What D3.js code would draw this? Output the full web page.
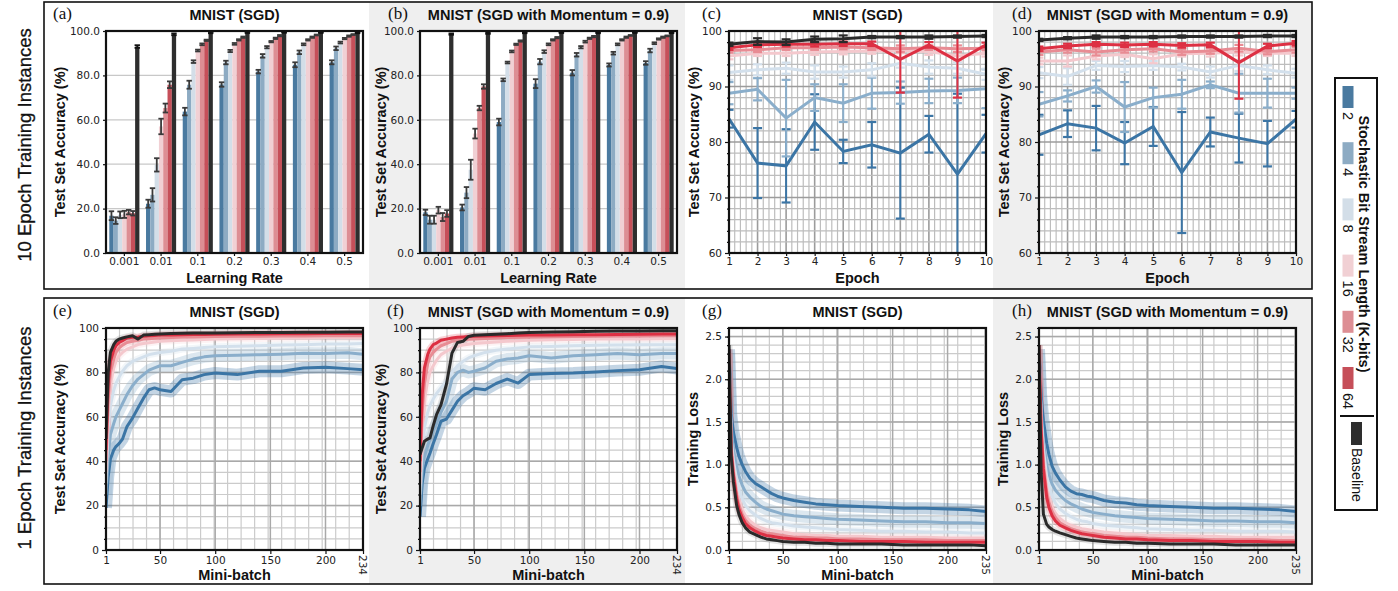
<!DOCTYPE html>
<html>
<head>
<meta charset="utf-8">
<script src="https://cdn.jsdelivr.net/npm/d3@7"></script>
<style>
  body { margin: 0; background: #fff; }
  svg { display: block; }
  .tick text { font-family: "DejaVu Sans", sans-serif; font-size: 10.5px; fill: #222; }
  .title { font-family: "Liberation Sans", Arial, sans-serif; font-weight: bold; font-size: 14.5px; fill: #111; }
  .axlabel { font-family: "Liberation Sans", Arial, sans-serif; font-weight: bold; font-size: 14.5px; fill: #111; }
  .tag { font-family: "Liberation Serif", serif; font-size: 17px; fill: #111; }
  .rowlabel { font-family: "Liberation Sans", Arial, sans-serif; font-size: 18.5px; fill: #111; stroke: #111; stroke-width: 0.3px; }
</style>
</head>
<body>
<svg width="1398" height="591"></svg>
<script>

var streamLengths = ["2", "4", "8", "16", "32", "64", "Baseline"];
var barColors = ["#4a7aa0", "#8dabc3", "#d3dee8", "#f1d0d4", "#dd8e94", "#c64f59", "#2e2e2e"];
var lineColors = ["#3b75a5", "#8aaecb", "#d3e0ec", "#f4c8cd", "#e88c94", "#dd3043", "#2a2a2a"];

// bar charts (a), (b): rows = stream length, columns = learning rate
var learningRates = ["0.001", "0.01", "0.1", "0.2", "0.3", "0.4", "0.5"];
var barSgdMean = [
  [16.8, 22.2, 63.7, 75.9, 81.7, 84.8, 85.9],
  [14.6, 26.2, 75.8, 85.8, 88.8, 90.4, 92.2],
  [17.2, 39.7, 86.2, 91.0, 92.7, 94.0, 94.8],
  [17.4, 57.0, 91.2, 94.2, 95.2, 96.0, 96.6],
  [18.4, 65.3, 94.0, 96.0, 96.7, 97.2, 97.7],
  [17.9, 75.8, 95.8, 97.2, 97.9, 98.2, 98.4],
  [93.0, 98.5, 99.3, 99.4, 99.4, 99.3, 99.2]
];
var barSgdErr = [
  [2.0, 1.8, 1.7, 1.0, 0.8, 1.1, 0.9],
  [1.5, 3.0, 1.8, 0.8, 0.8, 0.8, 0.8],
  [1.5, 3.0, 0.6, 0.5, 0.5, 0.4, 0.4],
  [1.6, 3.5, 0.4, 0.4, 0.3, 0.3, 0.3],
  [1.0, 2.0, 0.4, 0.3, 0.3, 0.3, 0.3],
  [1.0, 1.5, 0.3, 0.3, 0.3, 0.2, 0.2],
  [0.6, 0.4, 0.3, 0.3, 0.2, 0.2, 0.2]
];
var barMomMean = [
  [18.3, 20.5, 59.0, 76.3, 81.2, 84.7, 85.6],
  [15.0, 27.2, 78.0, 86.2, 89.3, 90.0, 91.2],
  [15.0, 37.5, 85.8, 90.7, 92.7, 94.0, 94.5],
  [19.3, 53.8, 90.8, 94.0, 95.2, 96.0, 96.4],
  [16.2, 65.3, 94.0, 96.0, 96.7, 97.2, 97.2],
  [17.8, 75.0, 95.5, 97.0, 97.5, 98.0, 97.8],
  [98.6, 99.0, 99.2, 99.3, 99.2, 99.3, 99.2]
];
var barMomErr = [
  [1.2, 1.3, 1.5, 2.0, 1.2, 0.7, 0.8],
  [1.8, 2.5, 0.6, 1.2, 0.8, 0.6, 0.8],
  [1.8, 4.5, 0.4, 0.6, 0.5, 0.4, 0.4],
  [1.5, 2.2, 0.4, 0.4, 0.4, 0.3, 0.3],
  [1.8, 1.0, 0.3, 0.3, 0.3, 0.3, 0.3],
  [1.5, 1.0, 0.3, 0.3, 0.3, 0.2, 0.2],
  [0.3, 0.3, 0.2, 0.2, 0.2, 0.2, 0.2]
];

// epoch charts (c), (d)
var epochs = [1, 2, 3, 4, 5, 6, 7, 8, 9, 10];
var epochSgdMean = [
  [84.2, 76.2, 75.7, 83.6, 78.3, 79.5, 78.0, 81.4, 74.2, 81.5],
  [88.8, 89.5, 84.3, 88.0, 87.0, 88.8, 88.9, 89.2, 89.3, 89.6],
  [92.5, 93.0, 93.3, 92.6, 92.6, 93.0, 94.2, 93.5, 93.3, 92.2],
  [95.5, 96.0, 96.0, 96.2, 96.3, 96.4, 96.5, 96.3, 95.5, 96.0],
  [96.5, 96.6, 97.0, 97.0, 97.1, 97.0, 96.8, 97.0, 96.8, 96.9],
  [97.0, 97.5, 97.6, 97.6, 97.7, 97.7, 94.9, 97.5, 94.6, 97.5],
  [97.6, 98.1, 98.0, 98.5, 98.6, 98.9, 98.9, 98.9, 99.0, 99.1]
];
var epochSgdErr = [
  [1.6, 6.3, 6.6, 5.0, 2.1, 4.1, 11.8, 3.3, 14.5, 3.4],
  [2.0, 2.0, 6.9, 2.4, 3.4, 2.8, 2.0, 2.2, 2.3, 3.5],
  [1.3, 1.0, 1.0, 1.2, 1.0, 1.2, 0.8, 1.2, 1.0, 1.0],
  [0.6, 0.5, 0.5, 0.5, 0.5, 0.5, 0.5, 0.6, 0.8, 0.6],
  [0.4, 0.4, 0.4, 0.4, 0.4, 0.4, 0.6, 0.4, 0.6, 0.4],
  [0.4, 0.4, 0.4, 0.4, 0.4, 0.4, 6.0, 0.5, 6.6, 0.4],
  [0.3, 0.6, 0.5, 0.5, 0.6, 0.2, 0.2, 0.3, 0.2, 0.2]
];
var epochMomMean = [
  [81.3, 83.3, 82.5, 79.8, 82.8, 74.5, 81.8, 80.7, 79.7, 84.1],
  [86.8, 88.3, 90.0, 86.3, 88.0, 88.6, 90.3, 88.8, 88.8, 88.8],
  [92.5, 91.8, 93.8, 93.6, 93.8, 93.5, 92.6, 93.8, 93.0, 92.4],
  [94.6, 94.6, 95.5, 95.8, 95.0, 95.9, 96.0, 96.2, 96.0, 96.0],
  [96.2, 96.6, 96.2, 96.6, 96.8, 96.2, 96.4, 96.9, 96.3, 96.6],
  [96.8, 97.3, 97.6, 97.5, 97.6, 97.4, 97.5, 94.3, 97.3, 97.8],
  [98.4, 98.7, 98.9, 98.9, 98.9, 99.0, 99.0, 99.0, 99.1, 99.1]
];
var epochMomErr = [
  [3.6, 2.4, 4.0, 3.8, 3.5, 10.9, 2.6, 4.4, 4.1, 1.5],
  [2.2, 1.0, 1.1, 4.5, 1.8, 2.6, 0.6, 3.5, 2.6, 1.0],
  [1.0, 1.5, 0.8, 1.0, 0.8, 0.6, 1.0, 1.0, 0.8, 0.8],
  [0.6, 1.0, 0.6, 0.5, 0.8, 0.5, 0.6, 0.6, 0.5, 0.5],
  [0.5, 0.5, 0.6, 0.5, 0.5, 0.5, 0.5, 0.6, 0.5, 0.5],
  [0.4, 0.4, 0.4, 0.4, 0.4, 0.4, 0.4, 6.5, 0.4, 0.4],
  [0.2, 0.2, 0.3, 0.2, 0.2, 0.2, 0.2, 0.2, 0.2, 0.2]
];

// mini-batch accuracy (e), (f)
var miniBatchAcc = [1, 3, 5, 8, 10, 13, 16, 20, 25, 30, 35, 40, 45, 50, 60, 70, 80, 90, 100, 120, 140, 160, 180, 200, 220, 234];
var accSgd = [
  [19, 33, 41, 45, 46.6, 48, 50, 55.6, 59.4, 64, 68.4, 72.2, 73, 72.2, 71.4, 76.7, 77.4, 79, 79.7, 79, 80.5, 80.5, 82, 82.3, 81.7, 81.2],
  [25, 42, 52, 57, 60, 63, 66, 70, 74, 77, 79, 81, 82, 83, 83, 84.5, 86, 87, 87.5, 87.7, 88, 88.2, 88.6, 88.5, 88.8, 88.2],
  [30, 55, 65, 72, 75, 78, 80.5, 83, 85, 86, 87, 88, 88.5, 89, 89.5, 90.5, 90.8, 91.2, 91.5, 91.8, 92, 92.3, 92.5, 92.8, 92.8, 93],
  [35, 62, 75, 82, 85, 87.5, 89, 90.5, 91.5, 92.5, 93, 93.3, 93.7, 94, 94.2, 94.5, 94.6, 94.8, 95, 95.2, 95.3, 95.5, 95.6, 95.7, 95.7, 95.8],
  [40, 68, 80, 86, 89, 91, 92.3, 93.5, 94, 94.5, 95, 95.2, 95.4, 95.5, 95.7, 95.9, 96, 96.1, 96.2, 96.3, 96.3, 96.4, 96.4, 96.5, 96.5, 96.5],
  [45, 75, 85, 90, 92, 93.5, 94.3, 95.5, 95.8, 96, 96.3, 96.5, 96.6, 96.8, 96.9, 97, 97.1, 97.1, 97.2, 97.3, 97.3, 97.4, 97.4, 97.5, 97.5, 97.5],
  [50, 80, 89, 92.5, 94, 95, 95.5, 96, 96.5, 95, 96.8, 97, 97.2, 97.3, 97.5, 97.6, 97.7, 97.8, 97.8, 97.9, 98, 98, 98.1, 98.1, 98.2, 98.2]
];
var accMom = [
  [15, 30, 36.8, 41, 43.6, 48, 52, 58, 59, 63, 67, 69.5, 71, 72.9, 72.2, 75, 77, 75.2, 79, 79.5, 79.7, 80.2, 80.8, 81.2, 82.7, 81.7],
  [20, 36, 42, 47, 50, 54, 57, 62, 67, 77, 80, 81, 80, 80.5, 82, 85, 86, 86.5, 87.5, 86.5, 87.5, 88, 88.5, 88, 88.5, 88.5],
  [25, 46, 55, 62, 65, 68, 70.5, 73, 76, 80, 83, 85, 86.5, 87.5, 89, 90, 90.5, 91, 91.5, 91.7, 92, 92.2, 92.3, 92.4, 92.5, 92.5],
  [30, 55, 68, 76, 80, 83, 85.5, 88, 89.5, 91, 91.8, 92.3, 92.7, 93, 93.4, 93.7, 94, 94.2, 94.5, 94.7, 94.8, 95, 95, 95.1, 95.2, 95.2],
  [35, 62, 75, 84, 87, 89, 90.5, 92, 93, 94, 94.4, 94.7, 94.9, 95, 95.3, 95.5, 95.7, 95.8, 96, 96.1, 96.2, 96.3, 96.4, 96.4, 96.5, 96.5],
  [40, 70, 82, 88, 90.5, 92.5, 93.2, 94.5, 95, 95.5, 95.8, 96, 96.2, 96.3, 96.4, 96.5, 96.6, 96.7, 96.8, 96.9, 97, 97, 97.1, 97.2, 97.3, 97.3],
  [43, 46, 49, 50, 50.4, 56, 61, 65.4, 74.7, 88.7, 93.5, 94, 96.2, 96.7, 97, 97.2, 97.4, 97.7, 98, 98.2, 98.3, 98.5, 98.6, 98.7, 98.8, 98.8]
];

// mini-batch training loss (g), (h)
var miniBatchLoss = [1, 3, 5, 8, 10, 13, 16, 20, 25, 30, 35, 40, 45, 50, 60, 70, 80, 90, 100, 120, 140, 160, 180, 200, 220, 235];
var lossSgd = [
  [2.35, 1.60, 1.38, 1.20, 1.10, 1.00, 0.92, 0.84, 0.78, 0.74, 0.70, 0.66, 0.63, 0.61, 0.58, 0.56, 0.54, 0.53, 0.52, 0.51, 0.50, 0.49, 0.49, 0.48, 0.47, 0.45],
  [2.30, 1.45, 1.18, 0.97, 0.87, 0.76, 0.68, 0.62, 0.56, 0.51, 0.48, 0.46, 0.44, 0.42, 0.40, 0.39, 0.38, 0.37, 0.36, 0.35, 0.34, 0.33, 0.33, 0.32, 0.32, 0.31],
  [2.30, 1.30, 1.05, 0.82, 0.70, 0.60, 0.52, 0.46, 0.41, 0.37, 0.34, 0.32, 0.31, 0.30, 0.28, 0.27, 0.26, 0.25, 0.24, 0.23, 0.22, 0.22, 0.21, 0.21, 0.20, 0.20],
  [2.30, 1.25, 0.98, 0.70, 0.58, 0.47, 0.40, 0.34, 0.29, 0.26, 0.24, 0.23, 0.22, 0.21, 0.19, 0.18, 0.17, 0.17, 0.16, 0.16, 0.15, 0.15, 0.15, 0.14, 0.14, 0.14],
  [2.30, 1.20, 0.92, 0.65, 0.53, 0.42, 0.35, 0.29, 0.25, 0.22, 0.20, 0.19, 0.18, 0.17, 0.15, 0.15, 0.14, 0.14, 0.13, 0.13, 0.12, 0.12, 0.12, 0.11, 0.11, 0.11],
  [2.35, 1.15, 0.88, 0.60, 0.48, 0.38, 0.31, 0.26, 0.22, 0.19, 0.17, 0.16, 0.15, 0.14, 0.13, 0.12, 0.12, 0.11, 0.11, 0.10, 0.10, 0.10, 0.09, 0.09, 0.09, 0.09],
  [2.40, 1.10, 0.80, 0.52, 0.42, 0.32, 0.26, 0.21, 0.18, 0.15, 0.13, 0.12, 0.11, 0.10, 0.09, 0.09, 0.08, 0.08, 0.07, 0.07, 0.07, 0.06, 0.06, 0.06, 0.06, 0.05]
];
var lossMom = [
  [2.35, 1.80, 1.52, 1.25, 1.12, 0.98, 0.90, 0.82, 0.74, 0.69, 0.66, 0.65, 0.63, 0.62, 0.58, 0.56, 0.55, 0.53, 0.52, 0.51, 0.50, 0.49, 0.49, 0.48, 0.47, 0.45],
  [2.30, 1.62, 1.28, 1.00, 0.88, 0.77, 0.70, 0.64, 0.58, 0.54, 0.51, 0.48, 0.46, 0.44, 0.42, 0.40, 0.39, 0.38, 0.37, 0.36, 0.35, 0.34, 0.34, 0.33, 0.33, 0.32],
  [2.30, 1.55, 1.18, 0.86, 0.74, 0.63, 0.55, 0.48, 0.43, 0.39, 0.36, 0.34, 0.33, 0.31, 0.29, 0.28, 0.27, 0.26, 0.25, 0.24, 0.23, 0.23, 0.22, 0.22, 0.22, 0.21],
  [2.35, 1.50, 1.08, 0.75, 0.62, 0.50, 0.43, 0.37, 0.32, 0.29, 0.27, 0.25, 0.24, 0.23, 0.21, 0.20, 0.19, 0.18, 0.17, 0.17, 0.16, 0.16, 0.15, 0.15, 0.15, 0.15],
  [2.35, 1.45, 1.00, 0.68, 0.56, 0.45, 0.38, 0.32, 0.28, 0.25, 0.23, 0.21, 0.20, 0.19, 0.17, 0.16, 0.15, 0.15, 0.14, 0.13, 0.13, 0.12, 0.12, 0.12, 0.11, 0.11],
  [2.40, 1.40, 0.95, 0.62, 0.50, 0.40, 0.34, 0.29, 0.26, 0.23, 0.21, 0.19, 0.18, 0.17, 0.15, 0.14, 0.13, 0.13, 0.12, 0.11, 0.11, 0.10, 0.10, 0.10, 0.09, 0.09],
  [2.40, 0.90, 0.42, 0.30, 0.27, 0.24, 0.22, 0.20, 0.18, 0.16, 0.14, 0.13, 0.12, 0.11, 0.10, 0.09, 0.09, 0.08, 0.08, 0.07, 0.07, 0.07, 0.06, 0.06, 0.06, 0.06]
];

var svg = d3.select("svg");
var PW = 257, PH = 222;
var clipCount = 0;

// row boxes and grey panel backgrounds
[[2, 287], [298, 286]].forEach(function(r) {
  svg.append("rect").attr("x", 369).attr("y", r[0]).attr("width", 316).attr("height", r[1]).attr("fill", "#efefef");
  svg.append("rect").attr("x", 993).attr("y", r[0]).attr("width", 319).attr("height", r[1]).attr("fill", "#efefef");
  svg.append("rect").attr("x", 44).attr("y", r[0]).attr("width", 1268).attr("height", r[1])
     .attr("fill", "none").attr("stroke", "#111").attr("stroke-width", 1.6);
});

svg.append("text").attr("class", "rowlabel").attr("text-anchor", "middle")
   .attr("transform", "translate(25,145) rotate(-90)").attr("dy", "0.35em").text("10 Epoch Training Instances");
svg.append("text").attr("class", "rowlabel").attr("text-anchor", "middle")
   .attr("transform", "translate(25,438) rotate(-90)").attr("dy", "0.35em").text("1 Epoch Training Instances");

function styleAxis(a) {
  a.select(".domain").remove();
  a.selectAll(".tick line").attr("stroke", "#111").attr("stroke-width", 1.2);
}

function addLabels(g, tag, tagX, title, yLabel, yOff, xLabel) {
  g.append("text").attr("class", "tag").attr("x", tagX).attr("y", -12).text(tag);
  g.append("text").attr("class", "title").attr("x", PW / 2).attr("y", -11)
   .attr("text-anchor", "middle").text(title);
  g.append("text").attr("class", "axlabel").attr("text-anchor", "middle")
   .attr("transform", "translate(" + (-yOff) + "," + (PH / 2) + ") rotate(-90)")
   .attr("dy", "0.35em").text(yLabel);
  g.append("text").attr("class", "axlabel").attr("x", PW / 2).attr("y", PH + 30)
   .attr("text-anchor", "middle").text(xLabel);
}

function frame(g) {
  g.append("rect").attr("width", PW).attr("height", PH).attr("fill", "none")
   .attr("stroke", "#111").attr("stroke-width", 2.2);
}

function clipFor(g) {
  var id = "clip" + (clipCount++);
  g.append("clipPath").attr("id", id).append("rect").attr("width", PW).attr("height", PH);
  return "url(#" + id + ")";
}

function barPanel(left, top, means, errs) {
  var g = svg.append("g").attr("transform", "translate(" + left + "," + top + ")");
  var x0 = d3.scaleBand().domain(learningRates).range([0, PW]).paddingInner(0.18).paddingOuter(0.09);
  var x1 = d3.scaleBand().domain(streamLengths).range([0, x0.bandwidth()]);
  var y = d3.scaleLinear().domain([0, 100]).range([PH, 0]);

  g.append("rect").attr("width", PW).attr("height", PH).attr("fill", "#fff");
  g.selectAll(".grid").data([20, 40, 60, 80]).enter().append("line")
   .attr("x1", 0).attr("x2", PW).attr("y1", y).attr("y2", y)
   .attr("stroke", "#c8c8c8").attr("stroke-width", 1.2);

  streamLengths.forEach(function(s, i) {
    g.selectAll(".bar" + i).data(means[i]).enter().append("rect")
     .attr("x", function(d, j) { return x0(learningRates[j]) + x1(s); })
     .attr("y", function(d) { return y(d); })
     .attr("width", x1.bandwidth())
     .attr("height", function(d) { return PH - y(d); })
     .attr("fill", barColors[i]);
  });

  streamLengths.forEach(function(s, i) {
    means[i].forEach(function(m, j) {
      var cx = x0(learningRates[j]) + x1(s) + x1.bandwidth() / 2;
      var lo = y(m - errs[i][j]), hi = y(Math.min(m + errs[i][j], 100));
      var c = i == 6 ? "#111" : "#3a3a3a";
      g.append("line").attr("x1", cx).attr("x2", cx).attr("y1", lo).attr("y2", hi)
       .attr("stroke", c).attr("stroke-width", 1.8);
      [lo, hi].forEach(function(yy) {
        g.append("line").attr("x1", cx - 2.7).attr("x2", cx + 2.7).attr("y1", yy).attr("y2", yy)
         .attr("stroke", c).attr("stroke-width", 1.8);
      });
    });
  });

  styleAxis(g.append("g").call(d3.axisLeft(y).tickValues([0, 20, 40, 60, 80, 100])
     .tickFormat(d3.format(".1f")).tickSize(3).tickPadding(3)));
  styleAxis(g.append("g").attr("transform", "translate(0," + PH + ")")
     .call(d3.axisBottom(x0).tickSize(3).tickPadding(2)));
  frame(g);
  return g;
}

function epochPanel(left, top, means, errs) {
  var g = svg.append("g").attr("transform", "translate(" + left + "," + top + ")");
  var x = d3.scaleLinear().domain([1, 10]).range([0, PW]);
  var y = d3.scaleLinear().domain([60, 100]).range([PH, 0]);

  g.append("rect").attr("width", PW).attr("height", PH).attr("fill", "#fff");
  var vx = d3.range(1, 10.001, 0.2);
  var hy = d3.range(60, 100.001, 2);
  g.selectAll(".vg").data(vx).enter().append("line")
   .attr("x1", x).attr("x2", x).attr("y1", 0).attr("y2", PH)
   .attr("stroke", function(d) { return Math.abs(d - Math.round(d)) < 1e-6 ? "#9c9c9c" : "#bdbdbd"; })
   .attr("stroke-width", function(d) { return Math.abs(d - Math.round(d)) < 1e-6 ? 1.6 : 1.2; });
  g.selectAll(".hg").data(hy).enter().append("line")
   .attr("x1", 0).attr("x2", PW).attr("y1", y).attr("y2", y)
   .attr("stroke", function(d) { return d % 10 == 0 ? "#9c9c9c" : "#bdbdbd"; })
   .attr("stroke-width", function(d) { return d % 10 == 0 ? 1.6 : 1.2; });

  var inner = g.append("g").attr("clip-path", clipFor(g));
  var line = d3.line().x(function(d, j) { return x(epochs[j]); }).y(function(d) { return y(d); });

  streamLengths.forEach(function(s, i) {
    var c = lineColors[i];
    means[i].forEach(function(m, j) {
      var cx = x(epochs[j]);
      var lo = y(m - errs[i][j]), hi = y(m + errs[i][j]);
      inner.append("line").attr("x1", cx).attr("x2", cx).attr("y1", lo).attr("y2", hi)
       .attr("stroke", c).attr("stroke-width", 2);
      [lo, hi].forEach(function(yy) {
        inner.append("line").attr("x1", cx - 4.5).attr("x2", cx + 4.5).attr("y1", yy).attr("y2", yy)
         .attr("stroke", c).attr("stroke-width", 2.2);
      });
    });
    inner.append("path").datum(means[i]).attr("d", line).attr("fill", "none")
     .attr("stroke", c).attr("stroke-width", 3).attr("stroke-linejoin", "miter");
  });

  var ya = g.append("g").call(d3.axisLeft(y).tickValues([60, 70, 80, 90, 100]).tickSize(4).tickPadding(3));
  styleAxis(ya);
  styleAxis(g.append("g").call(d3.axisLeft(y).tickValues(hy.filter(function(d) { return d % 10 != 0; }))
     .tickFormat("").tickSize(2)));
  styleAxis(g.append("g").attr("transform", "translate(0," + PH + ")")
     .call(d3.axisBottom(x).tickValues(epochs).tickSize(3).tickPadding(2)));
  frame(g);
  return g;
}

function batchPanel(left, top, xs, series, yMax, yTicks, yMinorStep, endLabel, fmt) {
  var g = svg.append("g").attr("transform", "translate(" + left + "," + top + ")");
  var xEnd = xs[xs.length - 1];
  var x = d3.scaleLinear().domain([1, xEnd]).range([0, PW]);
  var y = d3.scaleLinear().domain([0, yMax]).range([PH, 0]);

  g.append("rect").attr("width", PW).attr("height", PH).attr("fill", "#fff");
  var vMinor = d3.range(1, xEnd, 12.25);
  var hMinor = d3.range(0, yMax + 1e-9, yMinorStep);
  g.selectAll(".vg").data(vMinor).enter().append("line")
   .attr("x1", x).attr("x2", x).attr("y1", 0).attr("y2", PH)
   .attr("stroke", "#cbcbcb").attr("stroke-width", 1.2);
  g.selectAll(".hg").data(hMinor).enter().append("line")
   .attr("x1", 0).attr("x2", PW).attr("y1", y).attr("y2", y)
   .attr("stroke", "#cbcbcb").attr("stroke-width", 1.2);
  g.selectAll(".vmaj").data([50, 100, 150, 200]).enter().append("line")
   .attr("x1", x).attr("x2", x).attr("y1", 0).attr("y2", PH)
   .attr("stroke", "#a9a9a9").attr("stroke-width", 1.5);
  g.selectAll(".hmaj").data(yTicks).enter().append("line")
   .attr("x1", 0).attr("x2", PW).attr("y1", y).attr("y2", y)
   .attr("stroke", "#a9a9a9").attr("stroke-width", 1.5);

  var inner = g.append("g").attr("clip-path", clipFor(g));
  var line = d3.line().x(function(d, j) { return x(xs[j]); }).y(function(d) { return y(d); });

  series.forEach(function(vals, i) {
    inner.append("path").datum(vals).attr("d", line).attr("fill", "none")
     .attr("stroke", i == 6 ? "#888" : lineColors[i]).attr("stroke-opacity", i < 3 ? 0.3 : 0.22)
     .attr("stroke-width", i < 2 ? 12 : 7).attr("stroke-linejoin", "round");
  });
  series.forEach(function(vals, i) {
    inner.append("path").datum(vals).attr("d", line).attr("fill", "none")
     .attr("stroke", lineColors[i]).attr("stroke-width", 3).attr("stroke-linejoin", "round");
  });

  styleAxis(g.append("g").call(d3.axisLeft(y).tickValues(yTicks).tickFormat(fmt).tickSize(4).tickPadding(3)));
  styleAxis(g.append("g").call(d3.axisLeft(y).tickValues(hMinor).tickFormat("").tickSize(2)));
  styleAxis(g.append("g").attr("transform", "translate(0," + PH + ")")
     .call(d3.axisBottom(x).tickValues([1, 50, 100, 150, 200, xEnd])
       .tickFormat(function(d) { return d == xEnd ? "" : d; }).tickSize(4).tickPadding(3)));
  g.append("text").attr("transform", "translate(" + PW + "," + (PH + 5) + ") rotate(90)")
   .attr("dy", "0.35em").style("font-family", "DejaVu Sans, sans-serif").style("font-size", "10.5px")
   .attr("fill", "#222").text(endLabel);
  frame(g);
  return g;
}

var accLabel = "Test Set Accuracy (%)";
var sgd = "MNIST (SGD)", mom = "MNIST (SGD with Momentum = 0.9)";

addLabels(barPanel(106, 31, barSgdMean, barSgdErr), "(a)", -53, sgd, accLabel, 46, "Learning Rate");
addLabels(barPanel(420, 31, barMomMean, barMomErr), "(b)", -32, mom, accLabel, 39, "Learning Rate");
addLabels(epochPanel(729, 31, epochSgdMean, epochSgdErr), "(c)", -27, sgd, accLabel, 35, "Epoch");
addLabels(epochPanel(1039, 31, epochMomMean, epochMomErr), "(d)", -27, mom, accLabel, 35, "Epoch");

var pctFmt = d3.format("d"), lossFmt = d3.format(".1f");
addLabels(batchPanel(106, 328, miniBatchAcc, accSgd, 100, [0, 20, 40, 60, 80, 100], 5, "234", pctFmt),
          "(e)", -53, sgd, accLabel, 46, "Mini-batch");
addLabels(batchPanel(420, 328, miniBatchAcc, accMom, 100, [0, 20, 40, 60, 80, 100], 5, "234", pctFmt),
          "(f)", -33, mom, accLabel, 39, "Mini-batch");
addLabels(batchPanel(729, 328, miniBatchLoss, lossSgd, 2.6, [0, 0.5, 1, 1.5, 2, 2.5], 0.1, "235", lossFmt),
          "(g)", -27, sgd, "Training Loss", 36, "Mini-batch");
addLabels(batchPanel(1039, 328, miniBatchLoss, lossMom, 2.6, [0, 0.5, 1, 1.5, 2, 2.5], 0.1, "235", lossFmt),
          "(h)", -27, mom, "Training Loss", 36, "Mini-batch");

// legend
var leg = svg.append("g");
leg.append("rect").attr("x", 1335).attr("y", 78).attr("width", 42).attr("height", 432)
   .attr("fill", "#fff").attr("stroke", "#111").attr("stroke-width", 2);
var ly = d3.scalePoint().domain(streamLengths.slice(0, 6)).range([86, 367]);
streamLengths.slice(0, 6).forEach(function(s, i) {
  leg.append("rect").attr("x", 1342.5).attr("y", ly(s)).attr("width", 11).attr("height", 22).attr("fill", barColors[i]);
  leg.append("text").attr("transform", "translate(1348," + (ly(s) + 26) + ") rotate(90)")
     .attr("dy", "0.35em").style("font-family", "Liberation Sans, Arial, sans-serif")
     .style("font-size", "14.5px").attr("fill", "#111").text(s);
});
leg.append("text").attr("transform", "translate(1364,244) rotate(90)").attr("text-anchor", "middle")
   .attr("dy", "0.35em").attr("class", "title").text("Stochastic Bit Stream Length (K-bits)");
leg.append("line").attr("x1", 1340).attr("x2", 1374).attr("y1", 416).attr("y2", 416)
   .attr("stroke", "#111").attr("stroke-width", 1.8);
leg.append("rect").attr("x", 1351).attr("y", 422).attr("width", 11).attr("height", 23).attr("fill", barColors[6]);
leg.append("text").attr("transform", "translate(1357,448) rotate(90)").attr("dy", "0.35em")
   .style("font-family", "Liberation Sans, Arial, sans-serif").style("font-size", "14px")
   .attr("fill", "#111").text("Baseline");

</script>
</body>
</html>
